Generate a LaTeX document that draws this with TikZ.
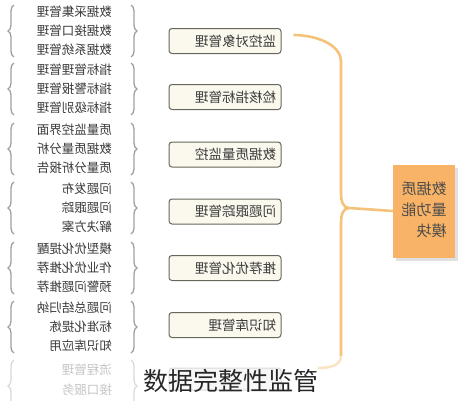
\documentclass[tikz,border=0pt]{standalone}
\usepackage{fontspec}
\usepackage{graphicx}
\setmainfont{Noto Sans CJK SC}
\newfontfamily\cjk{Noto Sans CJK SC}
\usetikzlibrary{decorations.pathreplacing}
\definecolor{boxline}{HTML}{66665A}
\definecolor{boxfill}{HTML}{FBF9EE}
\definecolor{orline}{HTML}{F4C27A}
\definecolor{orfill}{HTML}{F8B366}
\definecolor{txt}{HTML}{3A3A3A}
\definecolor{fade}{HTML}{C4C4C4}
\tikzset{
  sbox/.style={draw=boxline, fill=boxfill, rounded corners=3pt, line width=1pt,
    minimum height=25pt, text width=102pt, inner sep=5pt, align=left,
    font=\cjk\fontsize{13.5}{14}\selectfont, text=txt},
  gtext/.style={anchor=east, inner sep=0pt, font=\cjk\fontsize{12.5}{13}\selectfont, text=txt},
  lbrace/.style={draw=gray!75, line width=1.3pt, decorate, decoration={brace, amplitude=6pt}},
  orl/.style={draw=orline, line width=2.6pt},
}
\newcommand{\rf}[1]{\reflectbox{#1}}
\begin{document}
\begin{tikzpicture}[x=1pt,y=-1pt]
\useasboundingbox (0,0) rectangle (464,400);
\clip (0,0) rectangle (464,400);
% groups of items
\foreach \c/\a/\b/\d [count=\i] in {31/数据采集管理/数据接口管理/数据系统管理,
  89/指标管理管理/指标警报管理/指标级别管理,
  149/质量监控界面/数据质量分析/质量分析报告,
  208/问题发布/问题跟踪/解决方案,
  268/模型优化提醒/作业优化推荐/预警问题推荐,
  327/问题总结归纳/标准化提炼/知识库应用}{
  \node[gtext] (g\i a) at (112,\c-19) {\rf{\a}};
  \node[gtext] (g\i b) at (112,\c) {\rf{\b}};
  \node[gtext] (g\i c) at (112,\c+19) {\rf{\d}};
  \draw[lbrace] (14,\c+26) -- (14,\c-26);
  \draw[lbrace] (131,\c-26) -- (131,\c+26);
}
\node[gtext, text=fade] (g7a) at (112,370) {\rf{流程管理}};
\node[gtext, text=fade] (g7b) at (112,390) {\rf{接口服务}};
\draw[lbrace, draw=gray!30] (14,412) -- (14,360);
\draw[lbrace, draw=gray!30] (131,360) -- (131,412);
% boxes
\node[sbox] (b1) at (225,41) {\hfill\rf{监控对象管理}};
\node[sbox] (b2) at (225,97) {\hfill\rf{检核指标管理}};
\node[sbox] (b3) at (225,154.5) {\hfill\rf{数据质量监控}};
\node[sbox] (b4) at (225,211.5) {\hfill\rf{问题跟踪管理}};
\node[sbox] (b5) at (225,268) {\hfill\rf{推荐优化管理}};
\node[sbox] (b6) at (225,325) {\hfill\rf{知识库管理}};
\node[sbox, draw=gray!30, fill=gray!6, minimum height=22pt] (b7) at (225,379) {};
% main box
\fill[black!12] (396,168) rectangle (458,261);
\node[draw=none, fill=orfill, minimum width=62pt, minimum height=93pt, inner sep=0pt,
  font=\cjk\fontsize{15}{22}\selectfont, text=black!70] (main) at (424,211)
  {\rf{\begin{tabular}{@{}l@{}}数据质\\[-1pt]量功能\\[-1pt]模块\end{tabular}}};
% orange connector
\coordinate (tip) at (349,208);
\draw[orl] ([xshift=12pt,yshift=6pt]b1.east) to[out=0,in=90,looseness=0.9] (341,62)
  -- (341,194) to[out=-90,in=180] (tip) -- (main.west);
\draw[orl] (tip) to[out=180,in=90] (341,222) -- (341,356);
\draw[orl, draw=orline!45] (341,356) to[out=-90,in=0] (318,368);
% caption
\node[inner sep=0pt, font=\cjk\fontsize{25}{26}\selectfont, text=black!85] (cap) at (231,381) {数据完整性监管};
\end{tikzpicture}
\end{document}
